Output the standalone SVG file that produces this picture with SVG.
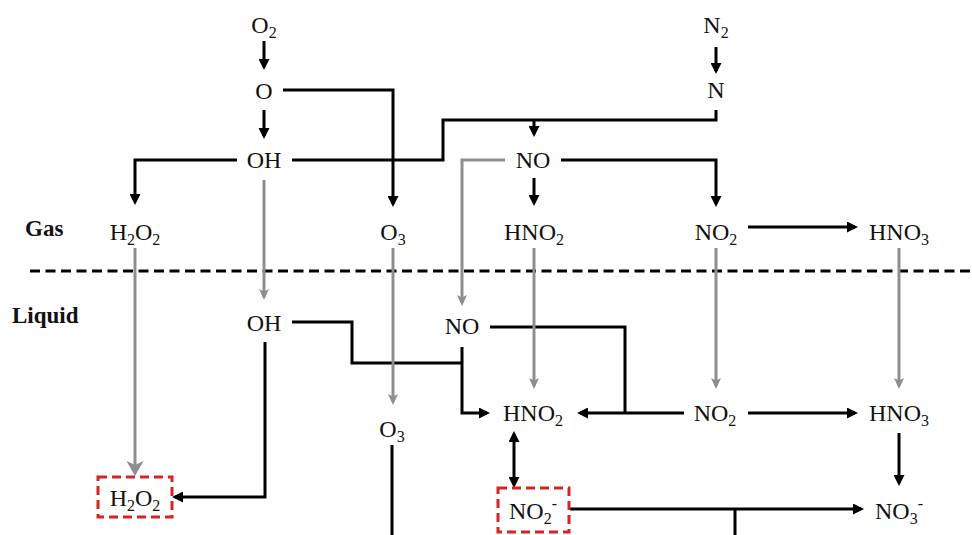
<svg xmlns="http://www.w3.org/2000/svg" width="972" height="535" viewBox="0 0 972 535">
<style>
  .t { font-family: "Liberation Serif", "Times New Roman", serif; font-size: 24px; fill: #111; text-anchor: middle; }
  .lbl { font-family: "Liberation Serif", "Times New Roman", serif; font-size: 23px; font-weight: bold; fill: #111; }
  .s { font-size: 16px; }
  .k { fill: none; stroke: #000; stroke-width: 3; }
  .g { fill: none; stroke: #8e8e8e; stroke-width: 3; }
  .box { fill: none; stroke: #d42424; stroke-width: 3; stroke-dasharray: 9 5; }
  .sep { fill: none; stroke: #000; stroke-width: 3; stroke-dasharray: 10 5.5; }
</style>
<defs>
  <marker id="ab" markerUnits="userSpaceOnUse" markerWidth="12" markerHeight="11" refX="8" refY="5.5" orient="auto-start-reverse">
    <path d="M0,0 L11,5.5 L0,11 z" fill="#000"/>
  </marker>
  <marker id="ag" markerUnits="userSpaceOnUse" markerWidth="12" markerHeight="11" refX="8" refY="5.5" orient="auto">
    <path d="M0,0.5 L11,5.5 L0,10.5 L2.5,5.5 z" fill="#8e8e8e"/>
  </marker>
  <marker id="agL" markerUnits="userSpaceOnUse" markerWidth="16" markerHeight="17" refX="12" refY="8.5" orient="auto">
    <path d="M0,0 L15,8.5 L0,17 L4,8.5 z" fill="#8e8e8e"/>
  </marker>
</defs>

<path class="sep" d="M30,271 H970"/>
<text class="lbl" x="25" y="236">Gas</text>
<text class="lbl" x="12" y="323">Liquid</text>

<g id="connectors">
  <g id="black">
    <path class="k" d="M264,41 V67" marker-end="url(#ab)"/>
    <path class="k" d="M264,110 V136" marker-end="url(#ab)"/>
    <path class="k" d="M283,90 H393 V204" marker-end="url(#ab)"/>
    <path class="k" d="M237,160 H135 V202" marker-end="url(#ab)"/>
    <path class="k" d="M716,47 V71" marker-end="url(#ab)"/>
    <path class="k" d="M716,110 V120 H443 V160 H292"/>
    <path class="k" d="M534,120 V134" marker-end="url(#ab)"/>
    <path class="k" d="M534,178 V203" marker-end="url(#ab)"/>
    <path class="k" d="M561,160 H716 V204" marker-end="url(#ab)"/>
    <path class="k" d="M748,227 H855" marker-end="url(#ab)"/>
    <path class="k" d="M265,342 V497 H175" marker-end="url(#ab)"/>
    <path class="k" d="M292,322 H352 V363 H462"/>
    <path class="k" d="M462,347 V413 H487" marker-end="url(#ab)"/>
    <path class="k" d="M490,327 H625 V413"/>
    <path class="k" d="M684,413 H580" marker-end="url(#ab)"/>
    <path class="k" d="M748,413 H855" marker-end="url(#ab)"/>
    <path class="k" d="M899,433 V483" marker-end="url(#ab)"/>
    <path class="k" d="M514,434 V485" marker-start="url(#ab)" marker-end="url(#ab)"/>
    <path class="k" d="M570,509 H861" marker-end="url(#ab)"/>
    <path class="k" d="M735,509 V536"/>
    <path class="k" d="M392,445 V536"/>
  </g>
  <g id="gray">
    <path class="g" d="M135,248 V473" marker-end="url(#agL)"/>
    <path class="g" d="M264,180 V297" marker-end="url(#ag)"/>
    <path class="g" d="M393,248 V402" marker-end="url(#ag)"/>
    <path class="g" d="M505,160 H462 V303" marker-end="url(#ag)"/>
    <path class="g" d="M534,248 V386" marker-end="url(#ag)"/>
    <path class="g" d="M716,248 V386" marker-end="url(#ag)"/>
    <path class="g" d="M899,248 V386" marker-end="url(#ag)"/>
  </g>
</g>

<g id="gas-O2"><text class="t" x="264" y="33">O<tspan class="s" dy="5">2</tspan></text></g>
<g id="gas-O"><text class="t" x="264" y="99">O</text></g>
<g id="gas-OH"><text class="t" x="264" y="168">OH</text></g>
<g id="gas-N2"><text class="t" x="716" y="33">N<tspan class="s" dy="5">2</tspan></text></g>
<g id="gas-N"><text class="t" x="716" y="98">N</text></g>
<g id="gas-NO"><text class="t" x="533" y="168">NO</text></g>
<g id="gas-H2O2"><text class="t" x="135" y="240">H<tspan class="s" dy="5">2</tspan><tspan dy="-5">O</tspan><tspan class="s" dy="5">2</tspan></text></g>
<g id="gas-O3"><text class="t" x="393" y="240">O<tspan class="s" dy="5">3</tspan></text></g>
<g id="gas-HNO2"><text class="t" x="534" y="240">HNO<tspan class="s" dy="5">2</tspan></text></g>
<g id="gas-NO2"><text class="t" x="716" y="240">NO<tspan class="s" dy="5">2</tspan></text></g>
<g id="gas-HNO3"><text class="t" x="899" y="240">HNO<tspan class="s" dy="5">3</tspan></text></g>

<g id="liq-OH"><text class="t" x="264" y="331">OH</text></g>
<g id="liq-NO"><text class="t" x="462" y="334">NO</text></g>
<g id="liq-O3"><text class="t" x="392" y="437">O<tspan class="s" dy="5">3</tspan></text></g>
<g id="liq-HNO2"><text class="t" x="533" y="421">HNO<tspan class="s" dy="5">2</tspan></text></g>
<g id="liq-NO2"><text class="t" x="715" y="421">NO<tspan class="s" dy="5">2</tspan></text></g>
<g id="liq-HNO3"><text class="t" x="899" y="421">HNO<tspan class="s" dy="5">3</tspan></text></g>
<g id="liq-H2O2">
  <rect class="box" x="98" y="477" width="74" height="40"/>
  <text class="t" x="135" y="506">H<tspan class="s" dy="5">2</tspan><tspan dy="-5">O</tspan><tspan class="s" dy="5">2</tspan></text>
</g>
<g id="liq-NO2minus">
  <rect class="box" x="498" y="488" width="71" height="44"/>
  <text class="t" x="533" y="519">NO<tspan class="s" dy="5">2</tspan><tspan class="s" dy="-15">-</tspan></text>
</g>
<g id="liq-NO3minus"><text class="t" x="899" y="519">NO<tspan class="s" dy="5">3</tspan><tspan class="s" dy="-15">-</tspan></text></g>
</svg>
